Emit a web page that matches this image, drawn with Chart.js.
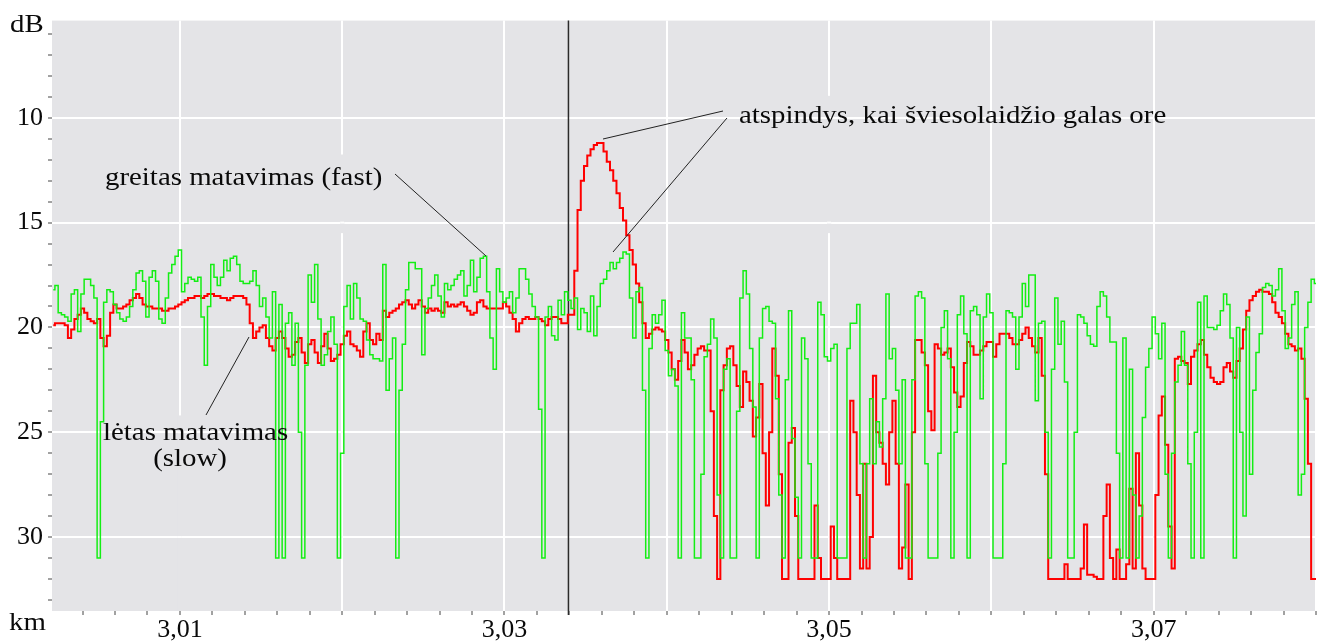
<!DOCTYPE html>
<html>
<head>
<meta charset="utf-8">
<script src="https://cdn.jsdelivr.net/npm/chart.js@4.4.1/dist/chart.umd.min.js"></script>
<style>
  html, body { margin: 0; padding: 0; background: #fff; }
  #wrap { width: 1323px; height: 643px; }
</style>
</head>
<body>
<div id="wrap"><canvas id="otdr" width="1323" height="643"></canvas></div>
<script>
// distance axis: one reading every 0.0002 km starting at 3.0022 km
const kmStart = 3.0022;
const kmStep = 0.0002;

// fast measurement (green), dB
const fastDb = [
  18.2, 18.0, 19.3, 19.4, 19.5, 19.7, 18.4, 18.2, 20.2, 18.4,
  17.7, 17.7, 18.0, 18.6, 31, 24.5, 18.8, 18.2, 18.3, 18.9,
  19.3, 19.6, 19.7, 19.5, 19.0, 18.2, 17.4, 17.3, 17.8, 19.5,
  17.6, 17.3, 17.8, 19.6, 19.8, 18.6, 17.4, 17.0, 16.6, 16.3,
  18.3, 17.9, 17.6, 17.7, 17.8, 17.6, 19.5, 21.8, 19.0, 17.0,
  17.6, 18.0, 17.6, 16.8, 17.3, 16.7, 16.6, 17.0, 17.8, 17.9,
  17.9, 17.8, 17.3, 18.0, 19.0, 18.6, 19.5, 20.5, 18.3, 31,
  18.9, 31, 19.8, 19.3, 21.8, 19.8, 25, 31, 21.8, 17.5,
  18.8, 17.0, 19.6, 21.8, 21.3, 20.2, 19.5, 20.8, 31, 26,
  19.0, 18.0, 19.6, 17.9, 18.6, 19.6, 19.7, 20.6, 21.3, 21.5,
  21.5, 21.6, 17.0, 23.0, 21.5, 20.5, 31, 23, 20.8, 18.2,
  16.9, 16.9, 17.2, 17.2, 21.3, 19.1, 18.6, 18.0, 17.5, 18.5,
  19.5, 17.9, 18.2, 18.0, 17.7, 17.5, 17.3, 18.5, 18.0, 16.8,
  18.3, 17.6, 16.7, 16.6, 18.3, 20.5, 22.0, 17.2, 18.3, 18.8,
  18.6, 18.3, 19.3, 18.6, 17.2, 17.2, 17.7, 18.4, 19.0, 19.5,
  23.9, 31, 19.5, 19.0, 20.4, 20.6, 18.7, 19.4, 18.3, 18.7,
  19.1, 18.6, 20.1, 19.1, 19.3, 20.2, 18.5, 20.4, 19.0, 17.9,
  17.7, 17.3, 16.9, 17.2, 16.9, 16.7, 16.4, 16.5, 18.6, 20.5,
  18.3, 18.1, 23, 31, 21.0, 19.4, 19.8, 19.4, 18.7, 21.1,
  22.3, 22.0, 22.8, 31, 19.3, 20.5, 20.5, 22.5, 31, 31,
  27, 21.4, 20.8, 19.6, 20.5, 28, 31, 22.0, 21.5, 31,
  31, 24, 18.6, 17.3, 18.4, 21.0, 23.8, 31, 20.5, 19.1,
  19.0, 19.7, 19.8, 23.4, 28, 31, 22.5, 19.2, 25.3, 28.1,
  31, 20.5, 21.5, 26.5, 31, 31, 18.8, 19.4, 21.4, 21.6,
  21.0, 20.8, 31, 31, 31, 21, 19.8, 19.8, 18.9, 26.5,
  31, 26.5, 23.4, 26.5, 24.5, 25.7, 23.4, 18.4, 21.5, 21,
  23, 26.5, 22.5, 31, 31, 22.5, 18.5, 18.3, 18.6, 26.5,
  31, 31, 31, 26.0, 20.0, 19.2, 21.5, 31, 25, 19.4,
  18.5, 20.3, 31, 19.2, 19.0, 19.4, 23.4, 19.5, 18.4, 19.3,
  31, 31, 31, 26.5, 19.2, 19.3, 19.5, 22.0, 19.5, 17.9,
  19.0, 17.5, 17.5, 23.5, 19.8, 19.7, 25.0, 31, 22.0, 18.6,
  20.8, 19.7, 22.6, 31, 31, 25, 19.4, 19.5, 19.8, 20.4,
  20.8, 20.9, 19.0, 18.3, 18.5, 19.5, 20.7, 20.7, 26, 31,
  20.5, 31, 22.0, 28, 31, 29, 24.3, 21.9, 21.0, 19.5,
  20.3, 21.5, 19.8, 27, 31, 26, 22.6, 21.8, 20.2, 21.8,
  26.5, 31, 25, 18.8, 31, 18.5, 20.0, 20.0, 20.1, 19.9,
  19.2, 18.4, 18.9, 20.5, 31, 20, 25, 29, 19.5, 27,
  23, 21.2, 20.3, 18.1, 17.9, 18.0, 18.5, 18.2, 17.2, 19.2,
  21.0, 20.5, 18.9, 18.3, 28, 27, 20.0, 18.8, 17.7, 17.9
];

// slow measurement (red), dB
const slowDb = [
  19.9, 19.8, 19.8, 19.8, 19.9, 20.5, 20.1, 19.6, 19.4, 19.1,
  19.3, 19.6, 19.7, 19.8, 19.6, 20.5, 20.9, 20.4, 19.3, 18.9,
  19.1, 19.1, 19.0, 18.9, 18.7, 18.6, 18.4, 18.6, 18.9, 19.0,
  19.0, 19.1, 19.1, 19.1, 19.2, 19.2, 19.1, 19.1, 19.0, 18.9,
  18.8, 18.7, 18.6, 18.6, 18.5, 18.5, 18.6, 18.5, 18.4, 18.4,
  18.5, 18.5, 18.6, 18.6, 18.7, 18.6, 18.5, 18.5, 18.5, 18.6,
  18.9, 19.8, 20.5, 20.2, 20.0, 19.9, 20.5, 20.9, 21.1, 20.5,
  20.2, 20.5, 21.0, 21.4, 21.3, 20.7, 20.5, 21.2, 21.7, 20.8,
  20.6, 21.2, 21.7, 20.9, 20.3, 21.0, 21.6, 21.5, 21.3, 20.8,
  20.4, 20.2, 20.8, 20.9, 21.1, 21.4, 20.2, 19.8, 20.6, 20.8,
  20.3, 20.6, 19.2, 19.5, 19.3, 19.2, 19.1, 18.9, 18.8, 18.7,
  18.9, 19.1, 18.9, 18.7, 19.0, 19.3, 19.1, 19.2, 19.1, 19.2,
  19.3, 18.8, 19.0, 18.9, 19.0, 18.9, 18.8, 19.0, 19.2, 19.4,
  19.3, 18.8, 18.7, 19.0, 19.1, 19.1, 19.1, 19.1, 19.1, 18.8,
  19.0, 19.3, 19.6, 20.2, 19.8, 19.6, 19.5, 19.6, 19.6, 19.5,
  19.6, 19.7, 19.9, 19.6, 19.5, 19.5, 19.6, 19.8, 19.8, 19.4,
  19.4, 17.3, 14.4, 13.0, 12.3, 11.8, 11.5, 11.3, 11.2, 11.2,
  11.6, 12.1, 12.5, 13.0, 13.6, 14.3, 14.9, 15.6, 16.3, 17.0,
  17.9, 18.8, 19.8, 20.5, 20.3, 20.1, 20.0, 20.1, 20.2, 20.6,
  21.2, 22.0, 22.5, 21.6, 20.6, 21.2, 22.0, 21.8, 21.3, 21.0,
  20.9, 21.1, 21.1, 24.0, 29.0, 32, 23.0, 21.8, 21.0, 20.9,
  21.8, 22.8, 23.8, 22.1, 22.6, 23.5, 25.2, 24.3, 22.7, 26.0,
  28.5, 25.0, 21.0, 22.3, 27.0, 32, 32, 25.5, 24.8, 29.0,
  32, 32, 32, 32, 32, 28.5, 31.0, 32, 32, 32,
  29.5, 31, 32, 32, 32, 32, 23.5, 25.0, 28.0, 31.5,
  26.5, 31.5, 30, 22.3, 25.0, 25.5, 26.5, 27.5, 25.0, 23.5,
  26.5, 31.5, 30.5, 27.5, 32, 25.0, 20.6, 20.6, 21.2, 21.8,
  24.0, 24.9, 20.8, 21.0, 21.3, 21.2, 21.0, 21.9, 23.1, 23.8,
  23.3, 21.7, 20.7, 20.9, 21.3, 21.3, 21.1, 20.9, 20.7, 20.7,
  21.4, 20.8, 20.3, 20.3, 20.3, 20.5, 20.8, 20.8, 20.6, 20.3,
  20.0, 20.5, 20.9, 21.2, 20.5, 22.3, 27, 32, 32, 32,
  32, 32, 31.3, 32, 32, 32, 32, 31.5, 29.4, 31.8,
  31.8, 31.9, 32, 32, 29.0, 27.5, 31, 32, 30.6, 32,
  32, 31.3, 27.7, 31.5, 26.0, 28.5, 31.5, 32, 32, 32,
  28, 24.2, 23.3, 25.6, 29.5, 31.5, 21.5, 21.4, 21.6, 21.7,
  22.7, 21.4, 21.1, 20.8, 20.6, 21.3, 21.9, 22.4, 22.6, 22.7,
  22.6, 21.9, 21.7, 22.1, 22.4, 21.6, 21.0, 20.1, 19.2, 18.7,
  18.5, 18.3, 18.2, 18.3, 18.3, 18.4, 18.8, 19.3, 19.5, 19.8,
  20.3, 20.8, 20.9, 21.1, 21.0, 21.5, 23.4, 26.5, 32, 32
];

const kmLabels = [3.01, 3.03, 3.05, 3.07];
const kmGrid = [3.01, 3.02, 3.03, 3.04, 3.05, 3.06, 3.07, 3.08];
const dbLabels = [10, 15, 20, 25, 30];
const cursorKm = 3.03394;

// pieces of the vertical grid that the original leaves out: [km, from dB, to dB]
const gridGaps = [[3.01, 24.2, 34], [3.02, 11.75, 15.5], [3.05, 8.95, 15.5]];

const plotBg = '#e4e4e7';
const ink = '#0a0a0a';
const serif = 'Liberation Serif';

const kmTicks = [];
for (let m = 3004; m <= 3080; m += 2) kmTicks.push(m / 1000);
const dbTicks = [];
for (let d = 6; d <= 33; d++) dbTicks.push(d);

const near = (list, v) => list.some(t => Math.abs(t - v) < 1e-6);

function toPoints(values) {
  return values.map((v, i) => ({ x: kmStart + i * kmStep, y: v }));
}

function wideText(ctx, text, x, y, align) {
  const sx = 1.11;
  ctx.save();
  const w = ctx.measureText(text).width * sx;
  const left = align === 'center' ? x - w / 2 : x;
  ctx.translate(left, y);
  ctx.scale(sx, 1);
  ctx.textAlign = 'left';
  ctx.fillText(text, 0, 0);
  ctx.restore();
}

const otdrPlugin = {
  id: 'otdr',
  beforeDraw(chart) {
    const { ctx, chartArea: a } = chart;
    ctx.save();
    ctx.fillStyle = plotBg;
    ctx.fillRect(a.left, a.top, a.right - a.left, a.bottom - a.top);
    ctx.restore();
  },
  beforeDatasetsDraw(chart) {
    const { ctx, chartArea: a, scales } = chart;
    const x = scales.x, y = scales.y;
    ctx.save();
    gridGaps.forEach(([km, d0, d1]) => {
      const px = x.getPixelForValue(km);
      const y0 = y.getPixelForValue(d0);
      const y1 = Math.min(y.getPixelForValue(d1), a.bottom);
      ctx.fillStyle = plotBg;
      ctx.fillRect(px - 2, y0, 4, y1 - y0);
      ctx.fillStyle = '#fff';
      dbLabels.forEach(d => {
        const py = y.getPixelForValue(d);
        if (py > y0 && py < y1) ctx.fillRect(px - 2, py - 1, 4, 2);
      });
    });
    // cursor line
    const cx = x.getPixelForValue(cursorKm);
    ctx.strokeStyle = '#2a2a2a';
    ctx.lineWidth = 1.5;
    ctx.beginPath();
    ctx.moveTo(cx, a.top);
    ctx.lineTo(cx, a.bottom + 4);
    ctx.stroke();
    ctx.restore();
  },
  afterDatasetsDraw(chart) {
    const { ctx } = chart;
    ctx.save();
    ctx.fillStyle = ink;
    ctx.font = '26px "' + serif + '"';
    ctx.textBaseline = 'alphabetic';
    wideText(ctx, 'dB', 10, 32);
    wideText(ctx, 'km', 9, 630);
    wideText(ctx, 'greitas matavimas (fast)', 105, 185);
    wideText(ctx, 'atspindys, kai šviesolaidžio galas ore', 739, 123);
    wideText(ctx, 'lėtas matavimas', 103, 440);
    wideText(ctx, '(slow)', 190, 466, 'center');

    ctx.strokeStyle = '#222';
    ctx.lineWidth = 1;
    [[395, 174, 486, 256], [723, 111, 603, 139], [727, 118, 613, 252], [206, 415, 249, 337]]
      .forEach(([x0, y0, x1, y1]) => {
        ctx.beginPath();
        ctx.moveTo(x0, y0);
        ctx.lineTo(x1, y1);
        ctx.stroke();
      });
    ctx.restore();
  }
};

new Chart(document.getElementById('otdr'), {
  type: 'line',
  data: {
    datasets: [
      {
        label: 'greitas matavimas (fast)',
        data: toPoints(fastDb),
        borderColor: 'rgb(20,238,20)',
        borderWidth: 1.5,
        pointRadius: 0,
        stepped: 'middle',
        fill: false
      },
      {
        label: 'lėtas matavimas (slow)',
        data: toPoints(slowDb),
        borderColor: 'rgb(255,0,0)',
        borderWidth: 2,
        pointRadius: 0,
        stepped: 'middle',
        fill: false
      }
    ]
  },
  options: {
    responsive: false,
    animation: false,
    events: [],
    layout: { padding: { top: 19, right: 7, left: 0, bottom: 0 } },
    plugins: { legend: { display: false }, tooltip: { enabled: false } },
    scales: {
      x: {
        type: 'linear',
        min: 3.00212,
        max: 3.08,
        afterBuildTicks: s => { s.ticks = kmTicks.map(v => ({ value: v })); },
        afterFit: s => { s.height = 32; },
        border: { display: false },
        grid: {
          color: c => (c.tick && near(kmGrid, c.tick.value)) ? '#fff' : 'rgba(0,0,0,0)',
          lineWidth: 2,
          tickColor: '#444',
          tickWidth: 1,
          tickLength: 4
        },
        ticks: {
          autoSkip: false,
          maxRotation: 0,
          padding: 0,
          color: ink,
          font: { family: serif, size: 26 },
          callback: v => near(kmLabels, v) ? v.toFixed(2).replace('.', ',') : ''
        }
      },
      y: {
        type: 'linear',
        reverse: true,
        min: 5.36,
        max: 33.53,
        afterBuildTicks: s => { s.ticks = dbTicks.map(v => ({ value: v })); },
        afterFit: s => { s.width = 52; },
        border: { display: false },
        grid: {
          color: c => (c.tick && near(dbLabels, c.tick.value)) ? '#fff' : 'rgba(0,0,0,0)',
          lineWidth: 2,
          tickColor: '#444',
          tickWidth: 1,
          tickLength: 4
        },
        ticks: {
          autoSkip: false,
          padding: 5,
          color: ink,
          font: { family: serif, size: 26 },
          callback: v => near(dbLabels, v) ? String(v) : ''
        }
      }
    }
  },
  plugins: [otdrPlugin]
});
</script>
</body>
</html>
